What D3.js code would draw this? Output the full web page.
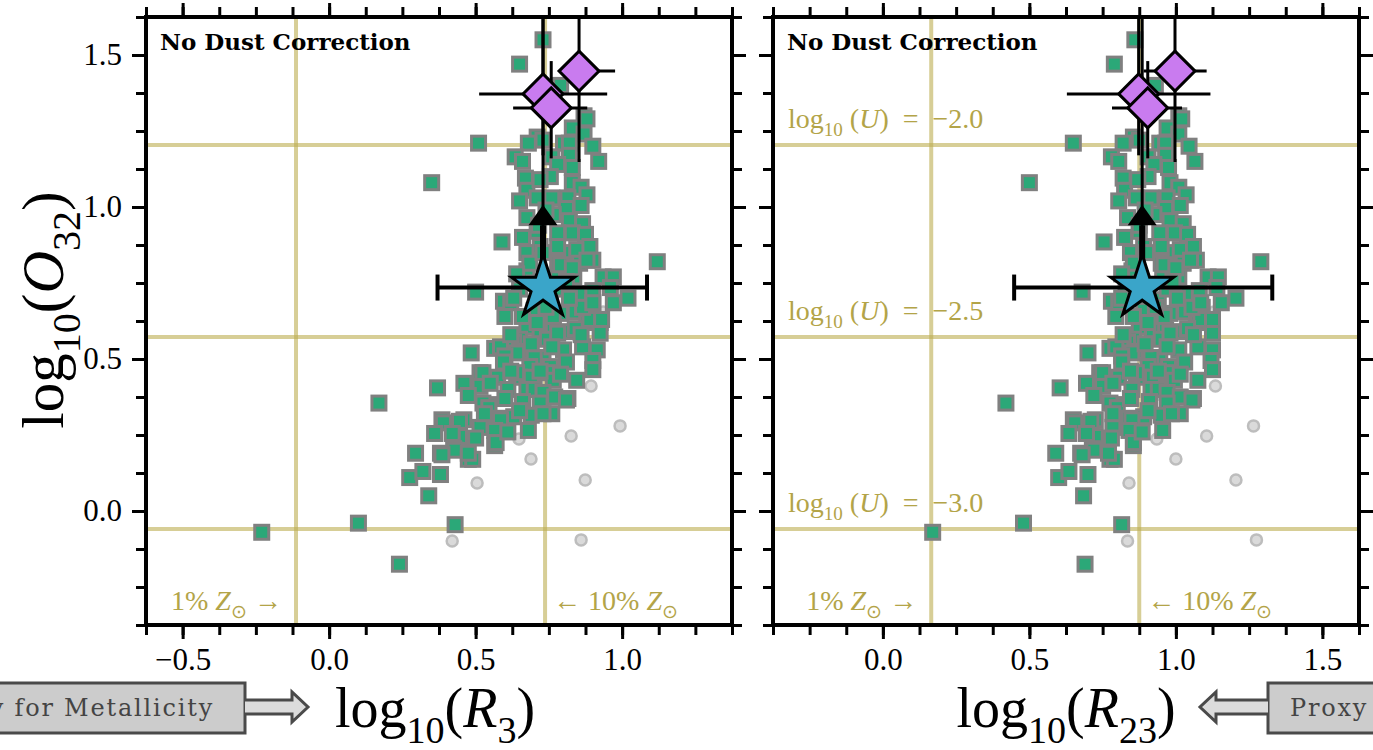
<!DOCTYPE html>
<html>
<head>
<meta charset="utf-8">
<script src="https://cdn.jsdelivr.net/npm/d3@7"></script>
<style>
  body { margin: 0; background: #fff; }
  svg { display: block; }
  text { white-space: pre; }
</style>
</head>
<body>
<svg id="chart" width="1373" height="750"></svg>
<script>
// ---------- Data ----------
// Galaxy sample (squares): O32, R3 and R23 line ratios (log10)
const sampleO32 = [
  1.55, 1.47, 1.40, 1.21, 1.08, 0.885, 0.82, 0.72, 0.355, -0.07, -0.04, -0.045, -0.175, 0.05, 0.52,
  1.30, 1.26, 1.29, 1.24, 1.23, 1.21, 1.21, 1.21, 1.22, 1.20, 1.15, 1.165, 1.15, 1.165, 1.17,
  1.14, 1.13, 1.095, 1.10, 1.08, 1.065, 1.055, 1.02, 1.03, 1.03, 1.03, 1.04, 1.005, 0.995, 0.975,
  0.965, 0.955, 0.945, 0.90, 0.92, 0.915, 0.915, 0.91, 0.85, 0.87, 0.85, 0.86, 0.87, 0.825, 0.815,
  0.815, 0.79, 0.77, 0.77, 0.77, 0.765, 0.825, 0.81, 0.815, 0.78, 1.09, 0.99, 0.94, 0.87, 0.80,
  0.69, 0.685, 0.64, 0.65, 0.655, 0.65, 0.67, 0.685, 0.70, 0.715, 0.725, 0.735, 0.73, 0.695, 0.73,
  0.73, 0.75, 0.755, 0.605, 0.595, 0.595, 0.59, 0.62, 0.62, 0.585, 0.63, 0.63, 0.67, 0.685, 0.64,
  0.66, 0.565, 0.585, 0.565, 0.555, 0.535, 0.54, 0.525, 0.52, 0.505, 0.505, 0.53, 0.54, 0.53, 0.51,
  0.49, 0.475, 0.475, 0.49, 0.495, 0.465, 0.455, 0.455, 0.455, 0.44, 0.44, 0.455, 0.44, 0.43, 0.43,
  0.42, 0.41, 0.40, 0.40, 0.40, 0.39, 0.375, 0.37, 0.365, 0.405, 0.38, 0.35, 0.355, 0.34, 0.36,
  0.355, 0.305, 0.31, 0.315, 0.32, 0.32, 0.30, 0.30, 0.30, 0.295, 0.29, 0.275, 0.265, 0.265, 0.255,
  0.245, 0.215, 0.225, 0.19, 0.19, 0.205, 0.20, 0.17, 0.17, 0.19, 0.185, 0.11, 0.13, 0.12,
  0.58, 0.55, 0.54, 0.60, 0.62, 0.64, 0.67, 0.70, 0.46, 0.46, 0.45, 0.42, 0.37, 0.33, 0.32,
  0.26, 0.24, 0.255, 0.85, 0.70, 0.58
];
const sampleR3 = [
  0.73, 0.65, 0.79, 0.51, 0.35, 0.59, 1.12, 0.50, 0.17, -0.23, 0.10, 0.43, 0.24, 0.34, 0.485,
  0.87, 0.83, 0.88, 0.87, 0.71, 0.68, 0.80, 0.82, 0.73, 0.90, 0.92, 0.635, 0.66, 0.76, 0.82,
  0.78, 0.83, 0.67, 0.755, 0.83, 0.86, 0.675, 0.65, 0.71, 0.76, 0.815, 0.88, 0.86, 0.81, 0.765,
  0.675, 0.82, 0.865, 0.66, 0.71, 0.78, 0.83, 0.875, 0.675, 0.72, 0.80, 0.845, 0.89, 0.90, 0.855,
  0.78, 0.675, 0.935, 0.97, 0.835, 0.78, 0.88, 0.79, 0.685, 0.64, 0.72, 0.74, 0.715, 0.78, 0.83,
  0.595, 0.62, 0.60, 0.79, 0.84, 0.88, 0.90, 0.97, 1.02, 0.855, 0.90, 0.96, 0.72, 0.755, 0.65,
  0.79, 0.70, 0.81, 0.675, 0.72, 0.765, 0.82, 0.88, 0.925, 0.925, 0.89, 0.93, 0.865, 0.90, 0.765,
  0.70, 0.745, 0.78, 0.65, 0.63, 0.565, 0.585, 0.65, 0.64, 0.73, 0.70, 0.80, 0.865, 0.915, 0.60,
  0.595, 0.685, 0.755, 0.81, 0.90, 0.90, 0.745, 0.515, 0.525, 0.575, 0.65, 0.64, 0.69, 0.765, 0.845,
  0.46, 0.515, 0.61, 0.675, 0.70, 0.73, 0.77, 0.815, 0.81, 0.37, 0.475, 0.545, 0.525, 0.545, 0.66,
  0.72, 0.58, 0.63, 0.69, 0.76, 0.73, 0.46, 0.585, 0.385, 0.445, 0.39, 0.515, 0.565, 0.68, 0.36,
  0.445, 0.565, 0.57, 0.38, 0.295, 0.425, 0.43, 0.475, 0.49, 0.475, 0.385, 0.275, 0.32, 0.38,
  0.62, 0.69, 0.76, 0.84, 0.71, 0.66, 0.74, 0.82, 0.62, 0.72, 0.79, 0.55, 0.60, 0.65, 0.53,
  0.61, 0.50, 0.42, 0.73, 0.63, 0.86
];
const sampleR23 = [
  0.86, 0.79, 0.93, 0.65, 0.50, 0.755, 1.29, 0.68, 0.42, 0.17, 0.48, 0.815, 0.69, 0.685, 0.70,
  1.01, 0.97, 1.02, 1.01, 0.855, 0.82, 0.945, 0.965, 0.875, 1.045, 1.065, 0.78, 0.805, 0.905, 0.965,
  0.925, 0.975, 0.82, 0.905, 0.98, 1.01, 0.825, 0.805, 0.865, 0.915, 0.97, 1.035, 1.015, 0.965, 0.925,
  0.835, 0.98, 1.025, 0.825, 0.875, 0.945, 0.995, 1.04, 0.845, 0.89, 0.97, 1.015, 1.06, 1.07, 1.025,
  0.95, 0.85, 1.11, 1.145, 1.01, 0.955, 1.05, 0.96, 0.855, 0.815, 0.87, 0.895, 0.875, 0.95, 1.00,
  0.78, 0.805, 0.795, 0.98, 1.03, 1.07, 1.09, 1.155, 1.205, 1.04, 1.08, 1.14, 0.90, 0.94, 0.83,
  0.97, 0.88, 0.99, 0.875, 0.92, 0.965, 1.02, 1.075, 1.12, 1.125, 1.085, 1.125, 1.055, 1.085, 0.96,
  0.89, 0.95, 0.98, 0.855, 0.835, 0.775, 0.795, 0.86, 0.85, 0.945, 0.915, 1.01, 1.075, 1.125, 0.815,
  0.815, 0.905, 0.975, 1.03, 1.12, 1.125, 0.97, 0.74, 0.75, 0.805, 0.88, 0.865, 0.92, 0.995, 1.075,
  0.695, 0.75, 0.85, 0.915, 0.94, 0.97, 1.015, 1.06, 1.055, 0.605, 0.72, 0.795, 0.775, 0.80, 0.91,
  0.97, 0.84, 0.89, 0.95, 1.015, 0.985, 0.725, 0.85, 0.65, 0.71, 0.655, 0.785, 0.84, 0.955, 0.635,
  0.725, 0.855, 0.855, 0.675, 0.59, 0.715, 0.72, 0.775, 0.79, 0.77, 0.68, 0.60, 0.635, 0.70,
  0.82, 0.895, 0.97, 1.04, 0.905, 0.855, 0.93, 1.005, 0.845, 0.94, 1.015, 0.785, 0.845, 0.905, 0.785,
  0.885, 0.78, 0.695, 0.90, 0.815, 1.06
];

// Excluded objects (grey circles)
const excludedO32 = [0.655, 0.411, 0.28, 0.247, 0.237, 0.171, 0.102, 0.092, -0.099, -0.095];
const excludedR3  = [0.935, 0.894, 0.993, 0.826, 0.648, 0.689, 0.874, 0.505, 0.42, 0.86];
const excludedR23 = [1.13, 1.135, 1.265, 1.105, 0.935, 1.00, 1.205, 0.84, 0.835, 1.275];

// Stacked measurement (star) with its uncertainties and O32 lower limit arrow
const starO32 = 0.735;
const starR3 = 0.73;
const starR23 = 0.885;
const starR3Err = [0.37, 1.085];
const starR23Err = [0.448, 1.329];
const starArrowO32 = [0.94, 1.007];   // arrow head base, tip

// Individual sources (diamonds)
const diaO32 = [1.447, 1.372, 1.326];
const diaO32Lo = [1.148, 1.17, 1.16];
const diaO32Hi = [1.75, 1.75, 1.48];
const diaR3 = [0.853, 0.73, 0.758];
const diaR3Lo = [0.788, 0.512, 0.628];
const diaR3Hi = [0.976, 0.949, 0.881];
const diaR23 = [0.997, 0.873, 0.904];
const diaR23Lo = [0.89, 0.628, 0.782];
const diaR23Hi = [1.105, 1.118, 1.021];

// Model reference lines
const ionO32 = [1.204, 0.572, -0.059];
const ionLabels = ["\u22122.0", "\u22122.5", "\u22123.0"];
const metalR3 = [-0.113, 0.737];
const metalR23 = [0.165, 0.875];

// Axis ticks
const yMajor = [0.0, 0.5, 1.0, 1.5];
const r3Major = [-0.5, 0.0, 0.5, 1.0];
const r23Major = [0.0, 0.5, 1.0, 1.5];

// ---------- Layout ----------
const svg = d3.select("#chart");
const plotTop = 17, plotBottom = 625;
const y = d3.scaleLinear().domain([-0.375, 1.625]).range([plotBottom, plotTop]);
const panels = [
  { id: "r3", x0: 146, x1: 732, domain: [-0.625, 1.375], major: r3Major, xs: sampleR3,
    exc: excludedR3, star: starR3, starErr: starR3Err, dia: diaR3, diaLo: diaR3Lo, diaHi: diaR3Hi,
    metal: metalR3, showY: true, sub: "3" },
  { id: "r23", x0: 773, x1: 1359, domain: [-0.375, 1.625], major: r23Major, xs: sampleR23,
    exc: excludedR23, star: starR23, starErr: starR23Err, dia: diaR23, diaLo: diaR23Lo, diaHi: diaR23Hi,
    metal: metalR23, showY: false, sub: "23" }
];

const olive = "rgb(189,174,80)";
const oliveText = "#b3a448";
const serif = "'Liberation Serif', 'Times New Roman', serif";

// Writes text with roman / italic / subscript pieces
function mathText(sel, parts, fs) {
  let shift = 0;
  parts.forEach(([t, s]) => {
    const target = s === "s" ? 0.28 * fs : 0;
    const ts = sel.append("tspan").text(t).attr("dy", target - shift);
    shift = target;
    if (s === "s") ts.attr("font-size", 0.68 * fs);
    if (s === "i") ts.attr("font-style", "italic");
  });
}

function range(a, b, step) {
  const out = [];
  for (let v = a; v <= b + 1e-9; v += step) out.push(+v.toFixed(4));
  return out;
}

function starPath(cx, cy, R) {
  const r = R * 0.382;
  const pts = [];
  for (let i = 0; i < 10; i++) {
    const a = -Math.PI / 2 + i * Math.PI / 5;
    const rad = i % 2 === 0 ? R : r;
    pts.push([cx + rad * Math.cos(a), cy + rad * Math.sin(a)]);
  }
  return "M" + pts.map(p => p.join(",")).join("L") + "Z";
}

panels.forEach((p, pi) => {
  const x = d3.scaleLinear().domain(p.domain).range([p.x0, p.x1]);
  const g = svg.append("g");

  g.append("clipPath").attr("id", "clip-" + p.id)
    .append("rect").attr("x", p.x0).attr("y", plotTop).attr("width", p.x1 - p.x0).attr("height", plotBottom - plotTop);
  const plot = g.append("g").attr("clip-path", `url(#clip-${p.id})`);

  // reference lines
  plot.selectAll(".hline").data(ionO32).join("line")
    .attr("x1", p.x0).attr("x2", p.x1).attr("y1", d => y(d)).attr("y2", d => y(d))
    .attr("stroke", olive).attr("stroke-opacity", 0.6).attr("stroke-width", 4);
  plot.selectAll(".vline").data(p.metal).join("line")
    .attr("x1", d => x(d)).attr("x2", d => x(d)).attr("y1", plotTop).attr("y2", plotBottom)
    .attr("stroke", olive).attr("stroke-opacity", 0.6).attr("stroke-width", 4);

  // metallicity labels
  const lab1 = plot.append("text").attr("x", x(p.metal[0]) - 125).attr("y", 610)
    .attr("font-family", serif).attr("font-size", 28).attr("fill", oliveText);
  mathText(lab1, [["1% ", "r"], ["Z", "i"], ["\u2299", "s"], [" \u2192", "r"]], 28);
  const lab2 = plot.append("text").attr("x", x(p.metal[1]) + 8).attr("y", 610)
    .attr("font-family", serif).attr("font-size", 28).attr("fill", oliveText);
  mathText(lab2, [["\u2190 10% ", "r"], ["Z", "i"], ["\u2299", "s"]], 28);

  // ionisation parameter labels
  if (!p.showY) {
    ionO32.forEach((v, i) => {
      const t = plot.append("text").attr("x", p.x0 + 15).attr("y", y(v) - 17)
        .attr("font-family", serif).attr("font-size", 28).attr("fill", oliveText);
      mathText(t, [["log", "r"], ["10", "s"], [" (", "r"], ["U", "i"], [")  =  " + ionLabels[i], "r"]], 28);
    });
  }

  // excluded objects
  plot.selectAll(".exc").data(p.exc).join("circle")
    .attr("cx", d => x(d)).attr("cy", (d, i) => y(excludedO32[i])).attr("r", 5.5)
    .attr("fill", "#dadada").attr("stroke", "#bdbdbd").attr("stroke-width", 2.5);

  // sample squares
  plot.selectAll(".sq").data(p.xs).join("rect")
    .attr("x", d => x(d) - 7).attr("y", (d, i) => y(sampleO32[i]) - 7)
    .attr("width", 14).attr("height", 14)
    .attr("fill", "#2ba878").attr("stroke", "#808080").attr("stroke-width", 3);

  // star: vertical limit line, arrow, horizontal error bar
  const sx = x(p.star), sy = y(starO32);
  plot.append("line").attr("x1", sx).attr("x2", sx).attr("y1", sy).attr("y2", plotTop - 5)
    .attr("stroke", "#000").attr("stroke-width", 3);
  plot.append("line").attr("x1", sx).attr("x2", sx).attr("y1", sy).attr("y2", y(starArrowO32[0]))
    .attr("stroke", "#000").attr("stroke-width", 6);
  const ab = y(starArrowO32[0]), at = y(starArrowO32[1]);
  plot.append("path").attr("d", `M${sx - 14.5},${ab}L${sx + 14.5},${ab}L${sx},${at}Z`).attr("fill", "#000");

  // diamonds with error bars
  p.dia.forEach((d, i) => {
    const cx = x(d), cy = y(diaO32[i]);
    plot.append("line").attr("x1", x(p.diaLo[i])).attr("x2", x(p.diaHi[i])).attr("y1", cy).attr("y2", cy)
      .attr("stroke", "#000").attr("stroke-width", 3);
    plot.append("line").attr("x1", cx).attr("x2", cx).attr("y1", y(diaO32Lo[i])).attr("y2", y(diaO32Hi[i]))
      .attr("stroke", "#000").attr("stroke-width", 3);
  });
  p.dia.forEach((d, i) => {
    const cx = x(d), cy = y(diaO32[i]), h = 20;
    plot.append("path").attr("d", `M${cx},${cy - h}L${cx + h},${cy}L${cx},${cy + h}L${cx - h},${cy}Z`)
      .attr("fill", "#c97bef").attr("stroke", "#000").attr("stroke-width", 3).attr("stroke-linejoin", "miter");
  });

  // star error bar and marker
  const ex0 = x(p.starErr[0]), ex1 = x(p.starErr[1]);
  plot.append("line").attr("x1", ex0).attr("x2", ex1).attr("y1", sy).attr("y2", sy)
    .attr("stroke", "#000").attr("stroke-width", 4);
  [ex0, ex1].forEach(cx => plot.append("line").attr("x1", cx).attr("x2", cx)
    .attr("y1", sy - 13).attr("y2", sy + 13).attr("stroke", "#000").attr("stroke-width", 4));
  plot.append("path").attr("d", starPath(sx, sy, 33))
    .attr("fill", "#3aa5c9").attr("stroke", "#000").attr("stroke-width", 3).attr("stroke-linejoin", "miter");

  // title
  g.append("text").attr("x", p.x0 + 14).attr("y", 50)
    .attr("font-family", "'DejaVu Serif', serif").attr("font-weight", "bold").attr("font-size", 23)
    .attr("fill", "#000").text("No Dust Correction");

  // axes: major and minor ticks on all four sides
  const xMinor = range(p.domain[0], p.domain[1], 0.125);
  const yMinor = range(-0.375, 1.625, 0.125);
  const fmt = d3.format(".1f");
  const axes = [
    [d3.axisBottom(x).tickValues(xMinor).tickSize(10).tickFormat(""), `translate(0,${plotBottom})`],
    [d3.axisBottom(x).tickValues(p.major).tickSize(14).tickPadding(9).tickFormat(fmt), `translate(0,${plotBottom})`],
    [d3.axisTop(x).tickValues(xMinor).tickSize(10).tickFormat(""), `translate(0,${plotTop})`],
    [d3.axisTop(x).tickValues(p.major).tickSize(14).tickFormat(""), `translate(0,${plotTop})`],
    [d3.axisLeft(y).tickValues(yMinor).tickSize(10).tickFormat(""), `translate(${p.x0},0)`],
    [d3.axisLeft(y).tickValues(yMajor).tickSize(14).tickPadding(10).tickFormat(p.showY ? fmt : ""), `translate(${p.x0},0)`],
    [d3.axisRight(y).tickValues(yMinor).tickSize(10).tickFormat(""), `translate(${p.x1},0)`],
    [d3.axisRight(y).tickValues(yMajor).tickSize(14).tickFormat(""), `translate(${p.x1},0)`]
  ];
  axes.forEach(([ax, tr]) => {
    const a = g.append("g").attr("transform", tr).call(ax.tickSizeOuter(0));
    a.select(".domain").remove();
    a.selectAll(".tick line").attr("stroke", "#000").attr("stroke-width", 3);
    a.selectAll(".tick text").attr("font-family", serif).attr("font-size", 31).attr("fill", "#000");
  });

  // frame
  g.append("rect").attr("x", p.x0).attr("y", plotTop).attr("width", p.x1 - p.x0).attr("height", plotBottom - plotTop)
    .attr("fill", "none").attr("stroke", "#000").attr("stroke-width", 4);

  // x-axis label
  const xl = g.append("text").attr("x", (p.x0 + p.x1) / 2 - (pi === 0 ? 4 : 0)).attr("y", 727)
    .attr("text-anchor", "middle").attr("font-family", serif).attr("font-size", 56).attr("fill", "#000");
  mathText(xl, [["log", "r"], ["10", "s"], ["(", "r"], ["R", "i"], [p.sub, "s"], [")", "r"]], 56);
});

// y-axis label
const yl = svg.append("text").attr("transform", "translate(63,310) rotate(-90)")
  .attr("text-anchor", "middle").attr("font-family", serif).attr("font-size", 59).attr("fill", "#000");
mathText(yl, [["log", "r"], ["10", "s"], ["(", "r"], ["O", "i"], ["32", "s"], [")", "r"]], 59);

// "Proxy for Metallicity" call-outs with hollow arrows
const boxFont = "'DejaVu Serif', serif";
svg.append("rect").attr("x", -10).attr("y", 683).attr("width", 255).attr("height", 50)
  .attr("fill", "#cccccc").attr("stroke", "#4a4a4a").attr("stroke-width", 3);
svg.append("text").attr("x", 214).attr("y", 716).attr("text-anchor", "end")
  .attr("font-family", boxFont).attr("font-size", 24).attr("letter-spacing", 1.8)
  .attr("fill", "#444").text("Proxy for Metallicity");
svg.append("path").attr("d", "M245,700H292V692L308,707L292,722V714H245")
  .attr("fill", "#dcdcdc").attr("stroke", "#4a4a4a").attr("stroke-width", 3).attr("stroke-linejoin", "miter");

svg.append("rect").attr("x", 1268).attr("y", 683).attr("width", 130).attr("height", 50)
  .attr("fill", "#cccccc").attr("stroke", "#4a4a4a").attr("stroke-width", 3);
svg.append("text").attr("x", 1290).attr("y", 716)
  .attr("font-family", boxFont).attr("font-size", 24).attr("letter-spacing", 1.8)
  .attr("fill", "#444").text("Proxy for Metallicity");
svg.append("path").attr("d", "M1268,700H1216V692L1200,707L1216,722V714H1268")
  .attr("fill", "#dcdcdc").attr("stroke", "#4a4a4a").attr("stroke-width", 3).attr("stroke-linejoin", "miter");
</script>
</body>
</html>
